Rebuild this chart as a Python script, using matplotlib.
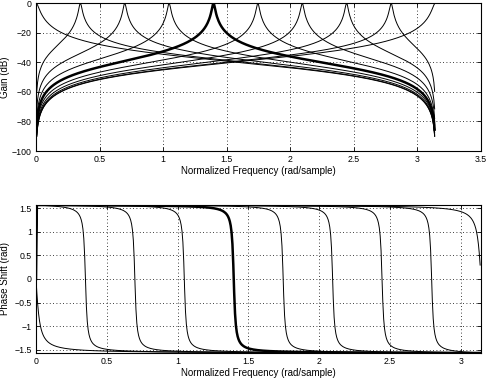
import numpy as np
import matplotlib
matplotlib.use("Agg")
import matplotlib.pyplot as plt

plt.rcParams['font.family'] = ['Liberation Sans', 'DejaVu Sans']

# peak (center) frequencies of the filter bank, rad/sample
peak_freqs = [0.0, 0.349, 0.698, 1.047, 1.396, 1.745, 2.094, 2.443, 2.793, 3.14159265]
highlight = 4          # the bold one
alpha = 0.98           # pole radius^2 of each resonator
n_points = 512

gain_ticks = [-100, -80, -60, -40, -20, 0]
gain_xticks = [0, 0.5, 1, 1.5, 2, 2.5, 3, 3.5]
phase_ticks = [-1.5, -1, -0.5, 0, 0.5, 1, 1.5]
phase_xticks = [0, 0.5, 1, 1.5, 2, 2.5, 3]


def peak_response(w0, w):
    # second order peaking filter: b(1 - z^-2) / (1 - beta(1+a) z^-1 + a z^-2)
    b = (1 - alpha) / 2
    beta = np.cos(w0)
    z1 = np.exp(-1j * w)
    with np.errstate(divide='ignore', invalid='ignore'):
        h = b * (1 - z1**2) / (1 - beta * (1 + alpha) * z1 + alpha * z1**2)
    # 0/0 only for the lowpass at dc, where the response is 1
    return np.where(np.isnan(h), 1.0, h)


# same grid as freqz: 0 .. pi*(n-1)/n
w = np.pi * np.arange(n_points) / n_points

fig = plt.figure(figsize=(4.87, 3.8), dpi=100)
ax1 = fig.add_axes([0.0739, 0.6026, 0.9138, 0.3895])
ax2 = fig.add_axes([0.0739, 0.0711, 0.9138, 0.3895])

for i, w0 in enumerate(peak_freqs):
    h = peak_response(w0, w)
    with np.errstate(divide='ignore', invalid='ignore'):
        gain = 20 * np.log10(np.abs(h))
    phase = np.angle(h)
    lw = 1.8 if i == highlight else 0.7
    ax1.plot(w, gain, color='black', linewidth=lw)
    ax2.plot(w, phase, color='black', linewidth=lw)

grid_kw = dict(color='black', linestyle=(0, (1, 3)), linewidth=0.6)

ax1.set_xlim(0, 3.5)
ax1.set_ylim(-100, 0)
ax1.set_xticks(gain_xticks)
ax1.set_xticklabels(['0', '0.5', '1', '1.5', '2', '2.5', '3', '3.5'])
ax1.set_yticks(gain_ticks)
ax1.set_xlabel('Normalized Frequency (rad/sample)', fontsize=7, labelpad=1.5)
ax1.set_ylabel('Gain (dB)', fontsize=7)
ax1.grid(True, **grid_kw)

ax2.set_xlim(0, np.pi)
ax2.set_ylim(-np.pi / 2, np.pi / 2)
ax2.set_xticks(phase_xticks)
ax2.set_xticklabels(['0', '0.5', '1', '1.5', '2', '2.5', '3'])
ax2.set_yticks(phase_ticks)
ax2.set_yticklabels(['\u22121.5', '\u22121', '\u22120.5', '0', '0.5', '1', '1.5'])
ax2.set_xlabel('Normalized Frequency (rad/sample)', fontsize=7, labelpad=1.5)
ax2.set_ylabel('Phase Shift (rad)', fontsize=7)
ax2.grid(True, **grid_kw)

for ax in (ax1, ax2):
    ax.tick_params(direction='in', length=3, width=0.6, labelsize=6.3, pad=3,
                   top=True, right=True)
    for s in ax.spines.values():
        s.set_linewidth(0.8)
    ax.set_axisbelow(False)
    ax.yaxis.set_label_coords(-0.058, 0.5)

fig.savefig('out.png', dpi=100)
